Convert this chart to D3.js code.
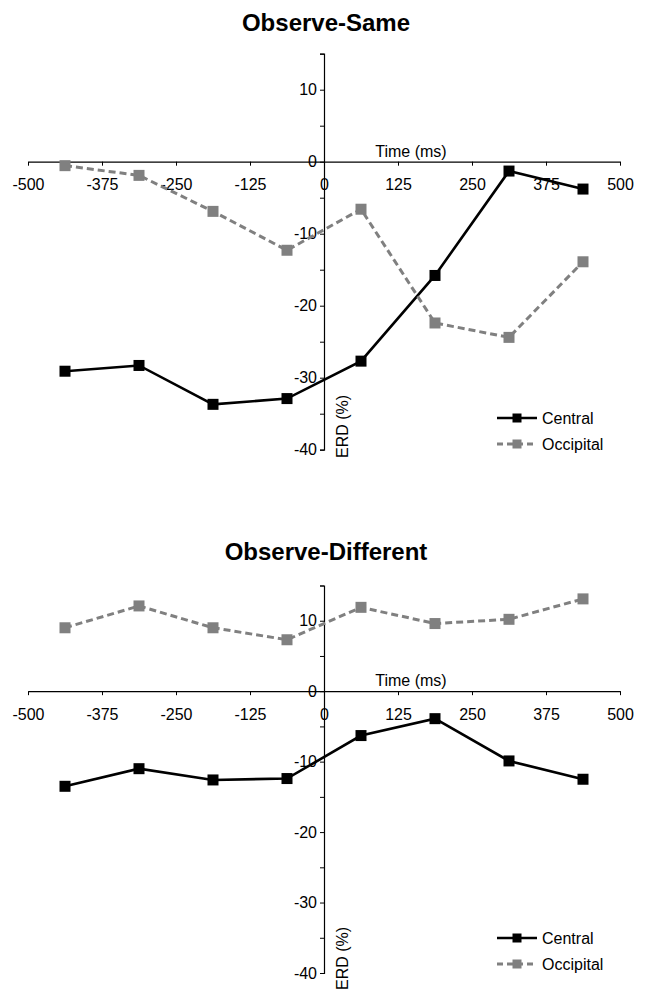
<!DOCTYPE html>
<html>
<head>
<meta charset="utf-8">
<script src="https://cdn.jsdelivr.net/npm/d3@7"></script>
<style>
  html, body { margin: 0; padding: 0; background: #fff; }
  svg { display: block; font-family: "Liberation Sans", Arial, sans-serif; }
</style>
</head>
<body>
<svg id="chart" width="647" height="1002"></svg>
<script>
// ---- data ----
const timePoints = [-437.5, -312.5, -187.5, -62.5, 62.5, 187.5, 312.5, 437.5];
const xTicks = [-500, -375, -250, -125, 0, 125, 250, 375, 500];
const yTicks = [10, 0, -10, -20, -30, -40];
const yMinorTicks = [15, 10, 5, 0, -5, -10, -15, -20, -25, -30, -35, -40];
const seriesNames = ["Central", "Occipital"];

const sameCentral   = [-29.1, -28.3, -33.7, -32.9, -27.7, -15.8, -1.3, -3.8];
const sameOccipital = [-0.55, -1.9, -6.9, -12.3, -6.6, -22.4, -24.4, -13.9];

const diffCentral   = [-13.5, -11.0, -12.6, -12.4, -6.3, -3.9, -9.9, -12.5];
const diffOccipital = [9.0, 12.1, 9.0, 7.3, 11.9, 9.6, 10.2, 13.1];

const panels = [
  { title: "Observe-Same", titleY: 31, yTop: 53.7, yBottom: 449.7,
    central: sameCentral, occipital: sameOccipital, legendY: 418, erdY: 458 },
  { title: "Observe-Different", titleY: 560, yTop: 585.5, yBottom: 973,
    central: diffCentral, occipital: diffOccipital, legendY: 938, erdY: 990 }
];

const svg = d3.select("#chart");
const x = d3.scaleLinear().domain([-500, 500]).range([28, 620]);
const colors = { Central: "#000000", Occipital: "#808080" };
const fmt = d => String(d);

panels.forEach(p => {
  const y = d3.scaleLinear().domain([-40, 15]).range([p.yBottom, p.yTop]);
  const g = svg.append("g");

  // title
  g.append("text").attr("x", 326).attr("y", p.titleY)
    .attr("text-anchor", "middle").attr("font-weight", "bold")
    .attr("font-size", 24).text(p.title);

  // y axis (at x = 0)
  const yAxis = d3.axisLeft(y).tickValues(yMinorTicks).tickSize(4).tickPadding(3)
    .tickFormat(d => yTicks.includes(d) ? fmt(d) : "");
  const ya = g.append("g").attr("transform", `translate(${x(0)},0)`).call(yAxis);
  ya.select(".domain").attr("stroke", "#000").attr("stroke-width", 1.2);
  ya.selectAll(".tick line").attr("stroke", "#000");
  ya.selectAll(".tick text").attr("font-size", 16).attr("fill", "#000")
    .attr("font-family", "Liberation Sans, Arial, sans-serif");

  // x axis (at y = 0)
  const xAxis = d3.axisBottom(x).tickValues(xTicks).tickSize(4).tickPadding(13)
    .tickFormat(fmt).tickSizeOuter(0);
  const xa = g.append("g").attr("transform", `translate(0,${y(0)})`).call(xAxis);
  xa.select(".domain").attr("stroke", "#000").attr("stroke-width", 1.2);
  xa.selectAll(".tick line").attr("stroke", "#000");
  xa.selectAll(".tick text").attr("font-size", 16).attr("fill", "#000")
    .attr("font-family", "Liberation Sans, Arial, sans-serif");

  // axis titles
  g.append("text").attr("x", 411).attr("y", y(0) - 5)
    .attr("text-anchor", "middle").attr("font-size", 16).text("Time (ms)");
  g.append("text")
    .attr("transform", `translate(348,${p.erdY}) rotate(-90)`)
    .attr("text-anchor", "start").attr("font-size", 16).text("ERD (%)");

  const line = d3.line().x((d, i) => x(timePoints[i])).y(d => y(d));

  const series = [
    { name: "Central", values: p.central, dash: null, width: 2.6 },
    { name: "Occipital", values: p.occipital, dash: "7,4", width: 3 }
  ];

  series.forEach(s => {
    g.append("path").datum(s.values)
      .attr("fill", "none").attr("stroke", colors[s.name])
      .attr("stroke-width", s.width).attr("stroke-dasharray", s.dash)
      .attr("d", line);
    g.selectAll(null).data(s.values).enter().append("rect")
      .attr("x", (d, i) => x(timePoints[i]) - 5.5)
      .attr("y", d => y(d) - 5.5)
      .attr("width", 11).attr("height", 11)
      .attr("fill", colors[s.name]);
  });

  // legend
  seriesNames.forEach((name, i) => {
    const ly = p.legendY + i * 26;
    const s = series[i];
    g.append("line").attr("x1", 497).attr("x2", 537).attr("y1", ly).attr("y2", ly)
      .attr("stroke", colors[name]).attr("stroke-width", s.width)
      .attr("stroke-dasharray", s.dash ? "6,4" : null);
    g.append("rect").attr("x", 517 - 4.5).attr("y", ly - 4.5)
      .attr("width", 9).attr("height", 9).attr("fill", colors[name]);
    g.append("text").attr("x", 542).attr("y", ly + 6)
      .attr("font-size", 16).text(name);
  });
});
</script>
</body>
</html>
